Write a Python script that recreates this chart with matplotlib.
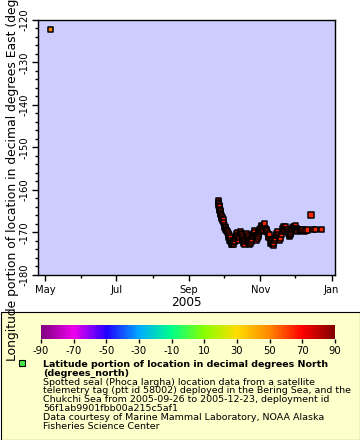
import matplotlib
matplotlib.use('Agg')
import matplotlib.pyplot as plt
import matplotlib.dates as mdates
from matplotlib.colors import LinearSegmentedColormap, Normalize
from matplotlib.patches import Rectangle
from matplotlib.lines import Line2D
import pandas as pd

plt.rcParams['axes.unicode_minus'] = False

# ---------------- data ----------------
times = [
    '2005-05-06 00', '2005-09-26 00', '2005-09-26 04', '2005-09-26 08', '2005-09-26 16',
    '2005-09-26 20', '2005-09-27 00', '2005-09-27 08', '2005-09-27 12', '2005-09-27 16',
    '2005-09-28 00', '2005-09-28 06', '2005-09-28 12', '2005-09-29 00', '2005-09-29 06',
    '2005-09-29 12', '2005-09-30 00', '2005-09-30 06', '2005-09-30 18', '2005-10-01 06',
    '2005-10-01 18', '2005-10-02 00', '2005-10-02 12', '2005-10-03 00', '2005-10-03 06',
    '2005-10-04 00', '2005-10-04 12', '2005-10-04 18', '2005-10-05 06', '2005-10-05 12',
    '2005-10-06 00', '2005-10-06 06', '2005-10-06 18', '2005-10-07 00', '2005-10-07 12',
    '2005-10-07 18', '2005-10-08 06', '2005-10-08 12', '2005-10-09 00', '2005-10-09 06',
    '2005-10-09 18', '2005-10-10 00', '2005-10-10 18', '2005-10-11 00', '2005-10-11 12',
    '2005-10-12 00', '2005-10-12 06', '2005-10-12 18', '2005-10-13 00', '2005-10-13 18',
    '2005-10-14 00', '2005-10-14 12', '2005-10-15 00', '2005-10-15 18', '2005-10-16 00',
    '2005-10-16 12', '2005-10-17 00', '2005-10-17 06', '2005-10-17 18', '2005-10-18 00',
    '2005-10-18 18', '2005-10-19 00', '2005-10-19 12', '2005-10-20 00', '2005-10-20 18',
    '2005-10-21 00', '2005-10-21 12', '2005-10-22 00', '2005-10-22 06', '2005-10-23 00',
    '2005-10-23 12', '2005-10-24 00', '2005-10-24 06', '2005-10-25 00', '2005-10-25 18',
    '2005-10-26 00', '2005-10-26 12', '2005-10-27 00', '2005-10-27 06', '2005-10-28 00',
    '2005-10-28 15', '2005-10-29 00', '2005-10-29 12', '2005-10-30 00', '2005-10-30 06',
    '2005-10-30 18', '2005-10-31 00', '2005-10-31 18', '2005-11-01 00', '2005-11-01 12',
    '2005-11-02 00', '2005-11-02 06', '2005-11-03 00', '2005-11-03 12', '2005-11-03 18',
    '2005-11-04 18', '2005-11-05 12', '2005-11-06 00', '2005-11-06 06', '2005-11-07 00',
    '2005-11-07 18', '2005-11-08 00', '2005-11-08 12', '2005-11-09 00', '2005-11-09 18',
    '2005-11-10 00', '2005-11-10 12', '2005-11-11 00', '2005-11-11 18', '2005-11-12 00',
    '2005-11-12 12', '2005-11-13 00', '2005-11-13 18', '2005-11-14 00', '2005-11-14 12',
    '2005-11-15 00', '2005-11-15 06', '2005-11-16 00', '2005-11-16 18', '2005-11-17 12',
    '2005-11-18 00', '2005-11-18 06', '2005-11-19 00', '2005-11-19 18', '2005-11-20 00',
    '2005-11-20 12', '2005-11-21 00', '2005-11-21 06', '2005-11-22 00', '2005-11-22 18',
    '2005-11-23 12', '2005-11-24 00', '2005-11-24 06', '2005-11-25 00', '2005-11-25 18',
    '2005-11-26 00', '2005-11-26 12', '2005-11-27 00', '2005-11-27 06', '2005-11-28 00',
    '2005-11-28 18', '2005-11-29 00', '2005-11-29 12', '2005-11-30 00', '2005-11-30 06',
    '2005-12-01 00', '2005-12-01 18', '2005-12-02 00', '2005-12-02 12', '2005-12-03 00',
    '2005-12-03 06', '2005-12-04 06', '2005-12-05 06', '2005-12-06 06', '2005-12-07 12',
    '2005-12-08 12', '2005-12-09 22', '2005-12-11 12', '2005-12-14 06', '2005-12-16 12',
    '2005-12-18 12', '2005-12-23 00',
]
lons = [
    -122.3, -162.6, -162.9, -163.1, -163.6,
    -163.8, -164.0, -164.6, -164.9, -165.1,
    -165.5, -165.8, -166.0, -166.4, -166.6,
    -166.9, -167.2, -167.0, -167.7, -168.3,
    -168.8, -168.9, -169.2, -169.5, -169.6,
    -169.9, -170.6, -170.3, -171.2, -170.8,
    -171.8, -171.3, -172.2, -171.8, -172.8,
    -172.3, -172.9, -172.6, -172.8, -172.4,
    -172.2, -172.0, -171.5, -171.3, -171.0,
    -170.2, -170.6, -170.0, -170.9, -171.9,
    -170.5, -171.2, -169.8, -170.3, -170.6,
    -171.0, -171.4, -171.8, -172.2, -172.5,
    -172.7, -172.0, -171.6, -170.2, -170.8,
    -171.2, -171.6, -171.9, -172.3, -172.8,
    -172.5, -172.0, -171.7, -171.0, -170.6,
    -170.9, -170.3, -169.6, -170.0, -170.8,
    -171.9, -170.8, -171.3, -171.0, -170.5,
    -170.0, -169.8, -169.3, -169.5, -169.0,
    -168.3, -168.7, -168.9, -169.8, -169.4,
    -167.8, -169.0, -169.2, -169.5, -170.0,
    -170.6, -171.0, -171.2, -170.4, -171.6,
    -172.6, -172.0, -172.3, -172.8, -173.0,
    -172.5, -171.8, -171.2, -171.5, -170.7,
    -170.8, -170.2, -169.8, -170.5, -171.9,
    -170.9, -171.3, -170.4, -169.8, -169.0,
    -169.3, -168.6, -169.0, -169.4, -168.6,
    -169.2, -169.4, -169.8, -170.3, -171.0,
    -170.8, -170.4, -170.2, -169.7, -169.2,
    -168.9, -169.2, -168.6, -169.1, -168.8,
    -168.4, -169.0, -169.1, -169.4, -169.2,
    -169.7, -169.6, -169.3, -169.5, -169.4,
    -169.7, -169.6, -169.4, -165.9, -169.3,
    -169.2, -169.3,
]
lats = [
    50.5, 64.5, 64.5, 64.6, 64.6,
    64.6, 64.7, 64.8, 64.8, 64.8,
    64.9, 64.9, 65.0, 65.0, 65.0,
    65.1, 65.2, 65.2, 65.3, 65.2,
    65.1, 65.1, 65.0, 64.9, 64.9,
    64.8, 64.7, 64.7, 64.6, 64.6,
    64.5, 64.5, 64.4, 64.4, 64.3,
    64.3, 64.2, 64.2, 64.1, 64.1,
    64.0, 64.0, 64.0, 64.1, 64.1,
    64.2, 64.2, 64.3, 64.3, 64.4,
    64.5, 64.5, 64.6, 64.7, 64.8,
    64.8, 64.9, 64.9, 65.0, 65.0,
    65.1, 65.2, 65.2, 65.2, 65.1,
    65.0, 65.0, 64.9, 64.9, 64.8,
    64.8, 64.7, 64.7, 64.6, 64.5,
    64.4, 64.4, 64.3, 64.3, 64.2,
    64.1, 64.0, 64.0, 64.0, 64.0,
    64.1, 64.1, 64.2, 64.3, 64.3,
    64.4, 64.4, 64.5, 64.6, 64.6,
    64.7, 64.8, 64.9, 64.9, 65.0,
    65.1, 65.2, 65.2, 65.3, 65.3,
    65.3, 65.2, 65.2, 65.1, 65.1,
    65.0, 64.9, 64.8, 64.8, 64.7,
    64.6, 64.6, 64.5, 64.4, 64.3,
    64.2, 64.2, 64.1, 64.0, 64.0,
    64.0, 64.1, 64.1, 64.2, 64.3,
    64.4, 64.5, 64.5, 64.6, 64.7,
    64.8, 64.8, 64.9, 64.9, 65.0,
    65.1, 65.2, 65.2, 65.3, 65.3,
    65.2, 65.1, 65.0, 64.9, 64.8,
    64.7, 64.6, 64.5, 64.4, 64.3,
    64.2, 64.1, 64.0, 64.1, 64.2,
    64.3, 64.3,
]

palette_values = [-90, -70, -50, -30, -10, 10, 30, 50, 70, 90]
palette_colors = ['#800080', '#ee00ee', '#2200ff', '#00aaff', '#00ff88',
                  '#88ff00', '#ffdd00', '#ff8800', '#ff0000', '#800000']
colorbar_ticks = [-90, -70, -50, -30, -10, 10, 30, 50, 70, 90]

x_start = '2005-04-24 14:00'
x_end = '2006-01-03 20:00'
y_range = (-180, -120)

x_label = '2005'
y_label = 'Longitude portion of location in decimal degrees East (degrees_east)'
legend_title = ['Latitude portion of location in decimal degrees North',
                '(degrees_north)']
legend_lines = [
    'Spotted seal (Phoca largha) location data from a satellite',
    'telemetry tag (ptt id 58002) deployed in the Bering Sea, and the',
    'Chukchi Sea from 2005-09-26 to 2005-12-23, deployment id',
    '56f1ab9901fbb00a215c5af1',
    'Data courtesy of Marine Mammal Laboratory, NOAA Alaska',
    'Fisheries Science Center',
]

# ---------------- figure ----------------
W, H = 360, 440
fig = plt.figure(figsize=(W / 100, H / 100), dpi=100)
fig.patch.set_facecolor('white')


def px(x0, y0, x1, y1):
    return [x0 / W, 1 - y1 / H, (x1 - x0) / W, (y1 - y0) / H]


cmap = LinearSegmentedColormap.from_list(
    'erddap_rainbow',
    [((v - palette_values[0]) / (palette_values[-1] - palette_values[0]), c)
     for v, c in zip(palette_values, palette_colors)])
norm = Normalize(vmin=palette_values[0], vmax=palette_values[-1])

# legend box (drawn behind everything)
fig.patches.append(Rectangle((0.5 / W, 0.5 / H), (W - 1) / W, (H - 312.5) / H,
                             transform=fig.transFigure, facecolor='#ffffcc',
                             edgecolor='black', linewidth=0.8, zorder=-5))

ax = fig.add_axes(px(37.5, 20, 335, 275))
ax.set_facecolor('#ccccff')
t = pd.to_datetime(times, format='%Y-%m-%d %H')
ax.scatter(t, lons, c=lats, cmap=cmap, norm=norm, marker='s', s=14,
           edgecolors='black', linewidths=1.1, zorder=3)
ax.set_xlim(pd.Timestamp(x_start), pd.Timestamp(x_end))
ax.set_ylim(*y_range)

ax.xaxis.set_major_locator(mdates.MonthLocator(bymonth=[1, 3, 5, 7, 9, 11]))
ax.xaxis.set_minor_locator(mdates.MonthLocator())
ax.xaxis.set_major_formatter(mdates.DateFormatter('%b'))
ax.yaxis.set_major_locator(matplotlib.ticker.MultipleLocator(10))
ax.yaxis.set_minor_locator(matplotlib.ticker.MultipleLocator(2))
ax.tick_params(axis='both', which='major', length=4, width=1, direction='out',
               labelsize=7.2, color='black')
ax.tick_params(axis='both', which='minor', length=2, width=1, direction='out')
ax.tick_params(axis='x', which='major', pad=3)
ax.tick_params(axis='y', which='major', pad=1.5)
for lab in ax.get_yticklabels():
    lab.set_rotation(90)
    lab.set_va('center')
for sp in ax.spines.values():
    sp.set_linewidth(1)
    sp.set_color('black')

fig.text(186 / W, 1 - 302 / H, x_label, ha='center', va='center', fontsize=8.7)
fig.text(13 / W, 1 - 361 / H, y_label, rotation=90, ha='center', va='bottom',
         fontsize=8.9, zorder=5)

# colorbar
cax = fig.add_axes(px(41, 325, 335, 339))
cax.set_zorder(2)
cb = fig.colorbar(matplotlib.cm.ScalarMappable(norm=norm, cmap=cmap), cax=cax,
                  orientation='horizontal', ticks=colorbar_ticks)
cb.outline.set_visible(False)
cax.tick_params(axis='x', length=3, width=1, labelsize=7.2, pad=2)

# legend marker and text
fig.add_artist(Line2D([22 / W], [1 - 363 / H], marker='s', markersize=4,
                      markerfacecolor='#44ee44', markeredgecolor='black',
                      markeredgewidth=0.8, transform=fig.transFigure))
base = 366.7
step = 8.9
for i, line in enumerate(legend_title):
    fig.text(43 / W, 1 - (base + i * step) / H, line, ha='left', va='baseline',
             fontsize=6.8, fontweight='bold')
for j, line in enumerate(legend_lines):
    i = j + len(legend_title)
    fig.text(43 / W, 1 - (base + i * step) / H, line, ha='left', va='baseline',
             fontsize=6.8)

fig.savefig('out.png', dpi=100)
